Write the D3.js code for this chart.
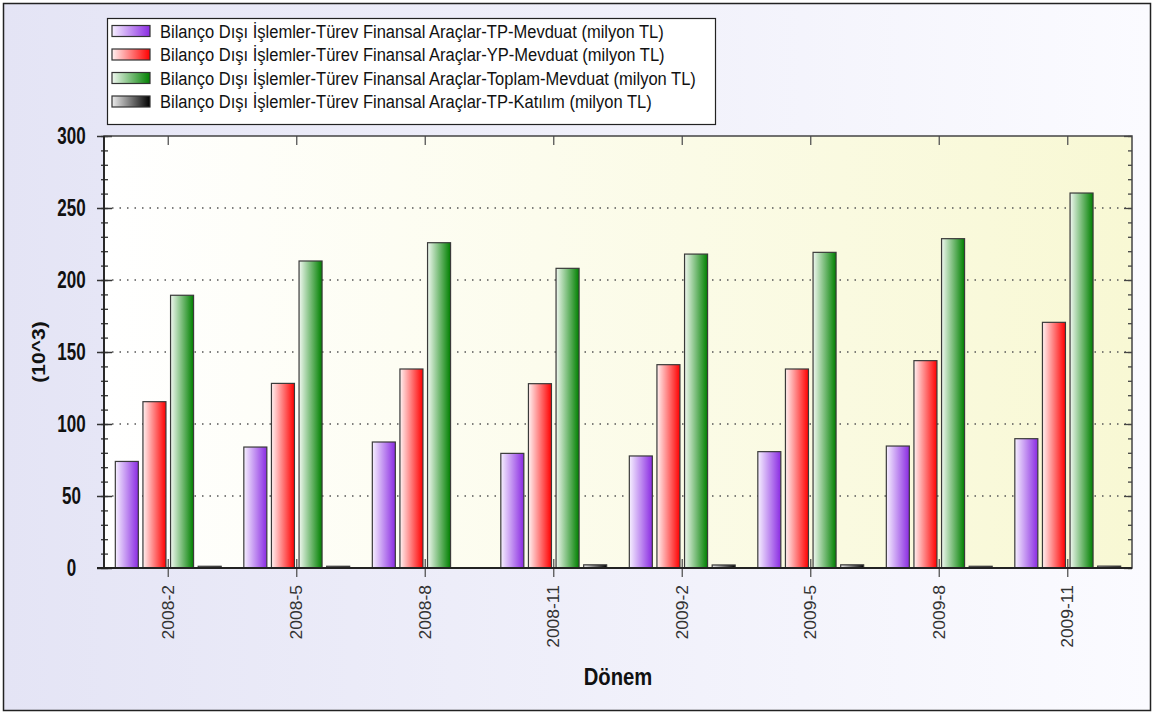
<!DOCTYPE html>
<html lang="tr">
<head>
<meta charset="utf-8">
<title>Bilanço Dışı İşlemler - Türev Finansal Araçlar</title>
<script src="https://cdn.jsdelivr.net/npm/d3@7"></script>
<style>
  body { margin: 0; background: #fff; }
  svg { display: block; font-family: "Liberation Sans", Arial, sans-serif; }
</style>
</head>
<body>
<svg id="chart" width="1156" height="714"></svg>
<script>
// values in thousands (10^3) of milyon TL
const categories = ["2008-2", "2008-5", "2008-8", "2008-11", "2009-2", "2009-5", "2009-8", "2009-11"]
const tpMevduat = [74, 84, 87.5, 79.6, 77.8, 80.8, 84.7, 89.8]
const ypMevduat = [115.5, 128.2, 138.2, 128, 141.2, 138.2, 144, 170.6]
const toplamMevduat = [189.4, 213.2, 225.9, 208.1, 218, 219.2, 228.7, 260.4]
const tpKatilim = [1.2, 1.2, 0, 2.2, 2.1, 2.2, 1.2, 1.3]
const seriesNames = [
  "Bilanço Dışı İşlemler-Türev Finansal Araçlar-TP-Mevduat (milyon TL)",
  "Bilanço Dışı İşlemler-Türev Finansal Araçlar-YP-Mevduat (milyon TL)",
  "Bilanço Dışı İşlemler-Türev Finansal Araçlar-Toplam-Mevduat (milyon TL)",
  "Bilanço Dışı İşlemler-Türev Finansal Araçlar-TP-Katılım (milyon TL)"
]
const yTicks = [0, 50, 100, 150, 200, 250, 300]
const yMinorTicks = d3.range(0, 301, 10)

const seriesValues = [tpMevduat, ypMevduat, toplamMevduat, tpKatilim]
const seriesColors = [
  ["#f6f0ff", "#8a2be2"],
  ["#fff2f2", "#ff0000"],
  ["#f0f8f0", "#008000"],
  ["#ececec", "#000000"]
]

const svg = d3.select("#chart")
const plot = { left: 104, top: 136, right: 1132, bottom: 568 }

// gradients
const defs = svg.append("defs")
function hGrad(id, c0, c1) {
  let g = defs.append("linearGradient").attr("id", id)
    .attr("x1", 0).attr("x2", 1).attr("y1", 0).attr("y2", 0)
  g.append("stop").attr("offset", "0%").attr("stop-color", c0)
  g.append("stop").attr("offset", "100%").attr("stop-color", c1)
}
hGrad("bgGrad", "#e4e4f5", "#fbfbff")
hGrad("plotGrad", "#ffffff", "#f8f8d4")
seriesColors.forEach((c, i) => hGrad("bar" + i, c[0], c[1]))

// outer frame
svg.append("rect")
  .attr("x", 3.5).attr("y", 3.5).attr("width", 1147).attr("height", 707)
  .attr("fill", "url(#bgGrad)").attr("stroke", "#222").attr("stroke-width", 1.5)

// scales
const x0 = d3.scaleBand().domain(categories).range([plot.left, plot.right])
const x1 = d3.scaleBand().domain(d3.range(4)).range([0, x0.bandwidth()])
  .paddingInner(0.167).paddingOuter(0.41)
const y = d3.scaleLinear().domain([0, 300]).range([plot.bottom, plot.top])

// plot area
svg.append("rect")
  .attr("x", plot.left).attr("y", plot.top)
  .attr("width", plot.right - plot.left).attr("height", plot.bottom - plot.top)
  .attr("fill", "url(#plotGrad)")

// dotted grid lines
svg.append("g")
  .selectAll("line")
  .data(yTicks.filter(d => d > 0 && d < 300)).enter()
  .append("line")
  .attr("x1", plot.left + 8).attr("x2", plot.right)
  .attr("y1", d => y(d)).attr("y2", d => y(d))
  .attr("stroke", "#555").attr("stroke-width", 1.3)
  .attr("stroke-dasharray", "1.5,6")

// bars
const groups = svg.append("g")
  .selectAll("g")
  .data(categories).enter()
  .append("g")
  .attr("transform", d => `translate(${x0(d)},0)`)

groups.selectAll("rect")
  .data((c, ci) => seriesValues.map((vals, si) => ({ s: si, v: vals[ci] })))
  .enter()
  .filter(d => d.v > 0)
  .append("rect")
  .attr("x", d => x1(d.s))
  .attr("width", x1.bandwidth())
  .attr("y", d => y(d.v))
  .attr("height", d => y(0) - y(d.v))
  .attr("fill", d => `url(#bar${d.s})`)
  .attr("stroke", "#3a3a3a").attr("stroke-width", 1.2)

// left axis: major and minor ticks crossing the axis line
svg.append("g")
  .attr("transform", `translate(${plot.left + 8},0)`)
  .call(d3.axisLeft(y).tickValues(yTicks).tickSize(15).tickFormat(""))
  .call(g => g.select(".domain").remove())
  .selectAll("line").attr("stroke", "#333").attr("stroke-width", 1.5)
svg.append("g")
  .attr("transform", `translate(${plot.left + 4},0)`)
  .call(d3.axisLeft(y).tickValues(yMinorTicks).tickSize(7).tickFormat(""))
  .call(g => g.select(".domain").remove())
  .selectAll("line").attr("stroke", "#333").attr("stroke-width", 1.3)

// right axis: inward ticks
svg.append("g")
  .attr("transform", `translate(${plot.right},0)`)
  .call(d3.axisLeft(y).tickValues(yTicks).tickSize(8).tickFormat(""))
  .call(g => g.select(".domain").remove())
  .selectAll("line").attr("stroke", "#444").attr("stroke-width", 1.3)
svg.append("g")
  .attr("transform", `translate(${plot.right},0)`)
  .call(d3.axisLeft(y).tickValues(yMinorTicks).tickSize(4).tickFormat(""))
  .call(g => g.select(".domain").remove())
  .selectAll("line").attr("stroke", "#444").attr("stroke-width", 1.3)

// category ticks top and bottom
const xc = d => x0(d) + x0.bandwidth() / 2
svg.append("g").selectAll("line").data(categories).enter().append("line")
  .attr("x1", xc).attr("x2", xc).attr("y1", plot.top).attr("y2", plot.top + 9)
  .attr("stroke", "#555").attr("stroke-width", 1.3)
svg.append("g").selectAll("line").data(categories).enter().append("line")
  .attr("x1", xc).attr("x2", xc).attr("y1", plot.bottom - 9).attr("y2", plot.bottom + 9)
  .attr("stroke", "#555").attr("stroke-width", 1.3)

// plot border
svg.append("rect")
  .attr("x", plot.left).attr("y", plot.top)
  .attr("width", plot.right - plot.left).attr("height", plot.bottom - plot.top)
  .attr("fill", "none").attr("stroke", "#444").attr("stroke-width", 1.5)
svg.append("line")
  .attr("x1", plot.left).attr("x2", plot.left).attr("y1", plot.top).attr("y2", plot.bottom)
  .attr("stroke", "#222").attr("stroke-width", 1.8)
svg.append("line")
  .attr("x1", plot.left - 7).attr("x2", plot.right).attr("y1", plot.bottom).attr("y2", plot.bottom)
  .attr("stroke", "#222").attr("stroke-width", 1.8)

// y tick labels
svg.append("g").selectAll("text").data(yTicks).enter().append("text")
  .attr("transform", d => `translate(71.5,${y(d)}) scale(0.74,1)`)
  .attr("dy", "0.36em")
  .attr("text-anchor", "middle")
  .attr("font-size", 23).attr("font-weight", "bold").attr("fill", "#111")
  .text(d => d)

// x tick labels (rotated)
svg.append("g").selectAll("text").data(categories).enter().append("text")
  .attr("transform", d => `translate(${xc(d)},585) scale(0.9,1) rotate(-90)`)
  .attr("dy", "0.36em")
  .attr("text-anchor", "end")
  .attr("font-size", 17.5).attr("fill", "#333")
  .text(d => d)

// axis titles
svg.append("text")
  .attr("transform", `translate(38,${(plot.top + plot.bottom) / 2}) scale(0.9,1) rotate(-90)`)
  .attr("dy", "0.36em").attr("text-anchor", "middle")
  .attr("font-size", 21).attr("font-weight", "bold").attr("fill", "#111")
  .text("(10^3)")
svg.append("text")
  .attr("transform", `translate(${(plot.left + plot.right) / 2},685) scale(0.88,1)`)
  .attr("text-anchor", "middle")
  .attr("font-size", 23).attr("font-weight", "bold").attr("fill", "#111")
  .text("Dönem")

// legend
const legend = svg.append("g")
legend.append("rect")
  .attr("x", 107.5).attr("y", 18.5).attr("width", 608).attr("height", 106)
  .attr("fill", "#fff").attr("stroke", "#222").attr("stroke-width", 1.2)
const rows = legend.selectAll("g.row").data(seriesNames).enter()
  .append("g").attr("class", "row")
  .attr("transform", (d, i) => `translate(0,${31 + i * 23.5})`)
rows.append("rect")
  .attr("x", 112).attr("y", -5.5).attr("width", 38).attr("height", 11)
  .attr("fill", (d, i) => `url(#bar${i})`)
  .attr("stroke", "#333").attr("stroke-width", 1.2)
rows.append("text")
  .attr("transform", "translate(160,0) scale(0.87,1)")
  .attr("dy", "0.36em")
  .attr("font-size", 19).attr("fill", "#111")
  .text(d => d)
</script>
</body>
</html>
